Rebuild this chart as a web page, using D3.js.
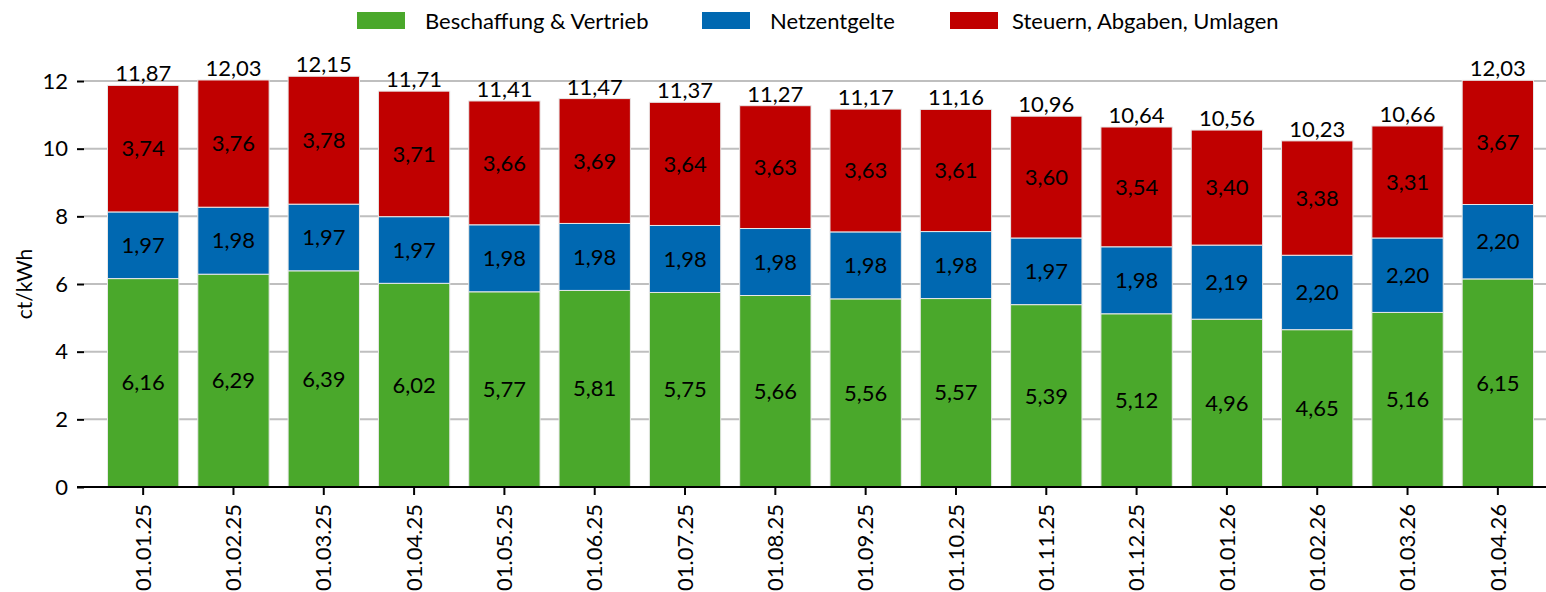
<!DOCTYPE html>
<html>
<head>
<meta charset="utf-8">
<script src="https://cdn.jsdelivr.net/npm/d3@7"></script>
<style>
  body { margin: 0; background: #fff; }
  text { font-family: Lato, "Open Sans", sans-serif; fill: #000; }
</style>
</head>
<body>
<div id="chart"></div>
<script>
// Strompreis-Bestandteile, ct/kWh
var dates = ["01.01.25", "01.02.25", "01.03.25", "01.04.25", "01.05.25", "01.06.25", "01.07.25", "01.08.25",
             "01.09.25", "01.10.25", "01.11.25", "01.12.25", "01.01.26", "01.02.26", "01.03.26", "01.04.26"];
var beschaffung = [6.16, 6.29, 6.39, 6.02, 5.77, 5.81, 5.75, 5.66, 5.56, 5.57, 5.39, 5.12, 4.96, 4.65, 5.16, 6.15];
var netzentgelte = [1.97, 1.98, 1.97, 1.97, 1.98, 1.98, 1.98, 1.98, 1.98, 1.98, 1.97, 1.98, 2.19, 2.20, 2.20, 2.20];
var steuern = [3.74, 3.76, 3.78, 3.71, 3.66, 3.69, 3.64, 3.63, 3.63, 3.61, 3.60, 3.54, 3.40, 3.38, 3.31, 3.67];
var totals = [11.87, 12.03, 12.15, 11.71, 11.41, 11.47, 11.37, 11.27, 11.17, 11.16, 10.96, 10.64, 10.56, 10.23, 10.66, 12.03];
var seriesNames = ["Beschaffung & Vertrieb", "Netzentgelte", "Steuern, Abgaben, Umlagen"];
var yTicks = [0, 2, 4, 6, 8, 10, 12];

var colors = ["#4aa82b", "#0068b1", "#c00000"];
var width = 1546, height = 592;
var fs = "22px";

var fmt = function(v) { return v.toFixed(2).replace(".", ","); };

var rows = dates.map(function(d, i) {
  return { date: d, s0: beschaffung[i], s1: netzentgelte[i], s2: steuern[i], total: totals[i] };
});

var svg = d3.select("#chart").append("svg")
  .attr("width", width)
  .attr("height", height);

var x = d3.scaleBand()
  .domain(dates)
  .range([98, 1543])
  .paddingInner(0.21)
  .paddingOuter(0.105);

var y = d3.scaleLinear()
  .domain([0, 12])
  .range([487, 81]);

// gridlines
svg.append("g")
  .selectAll("line")
  .data(yTicks.filter(function(t) { return t > 0; }))
  .enter().append("line")
  .attr("x1", 84).attr("x2", width)
  .attr("y1", function(d) { return y(d); })
  .attr("y2", function(d) { return y(d); })
  .attr("stroke", "#bfbfbf")
  .attr("stroke-width", 2);

// stacked bars
var stack = d3.stack().keys(["s0", "s1", "s2"]);
var layers = stack(rows);

var layer = svg.selectAll(".layer")
  .data(layers)
  .enter().append("g")
  .attr("class", "layer")
  .attr("fill", function(d, i) { return colors[i]; });

layer.selectAll("rect")
  .data(function(d) { return d; })
  .enter().append("rect")
  .attr("x", function(d) { return x(d.data.date); })
  .attr("width", x.bandwidth())
  .attr("y", function(d) { return y(d[1]); })
  .attr("height", function(d) { return y(d[0]) - y(d[1]); })
  .attr("stroke", "#e8e8e8")
  .attr("stroke-width", 1);

// segment labels
layer.selectAll("text")
  .data(function(d) { return d.map(function(p) { return { p: p, key: d.key }; }); })
  .enter().append("text")
  .attr("x", function(d) { return x(d.p.data.date) + x.bandwidth() / 2; })
  .attr("y", function(d) { return y((d.p[0] + d.p[1]) / 2); })
  .attr("dy", "0.35em")
  .attr("text-anchor", "middle")
  .style("font-size", fs)
  .text(function(d) { return fmt(d.p.data[d.key]); });

// totals on top
svg.append("g")
  .selectAll("text")
  .data(rows)
  .enter().append("text")
  .attr("x", function(d) { return x(d.date) + x.bandwidth() / 2; })
  .attr("y", function(d) { return y(d.total) - 4; })
  .attr("text-anchor", "middle")
  .style("font-size", fs)
  .text(function(d) { return fmt(d.total); });

// y axis: ticks only, no domain line
var yAxis = svg.append("g")
  .attr("transform", "translate(84,0)")
  .call(d3.axisLeft(y).tickValues(yTicks).tickSize(7).tickPadding(9).tickFormat(d3.format("d")));
yAxis.select(".domain").remove();
yAxis.selectAll("line").attr("stroke", "#000").attr("stroke-width", 2);
yAxis.selectAll("text").style("font-size", fs).attr("font-family", "Lato, sans-serif");

// x axis
var xAxis = svg.append("g")
  .attr("transform", "translate(0," + y(0) + ")")
  .call(d3.axisBottom(x).tickSize(8).tickSizeOuter(0));
xAxis.select(".domain").attr("d", "M77,0H" + width).attr("stroke", "#000").attr("stroke-width", 2);
xAxis.selectAll("line").attr("stroke", "#000").attr("stroke-width", 2);
xAxis.selectAll("text")
  .attr("transform", "rotate(-90)")
  .attr("x", -17)
  .attr("y", 0)
  .attr("dy", "0.35em")
  .attr("text-anchor", "end")
  .attr("font-family", "Lato, sans-serif")
  .style("font-size", fs);

// y label
svg.append("text")
  .attr("transform", "translate(32,284) rotate(-90)")
  .attr("text-anchor", "middle")
  .style("font-size", "21px")
  .text("ct/kWh");

// legend
var legendX = [357, 702, 950];
var legend = svg.append("g").selectAll("g")
  .data(seriesNames)
  .enter().append("g")
  .attr("transform", function(d, i) { return "translate(" + legendX[i] + ",12)"; });
legend.append("rect")
  .attr("width", 48).attr("height", 17)
  .attr("fill", function(d, i) { return colors[i]; });
legend.append("text")
  .attr("x", function(d, i) { return i == 2 ? 62 : 68; })
  .attr("y", 9)
  .attr("dy", "0.35em")
  .style("font-size", fs)
  .text(function(d) { return d; });
</script>
</body>
</html>
